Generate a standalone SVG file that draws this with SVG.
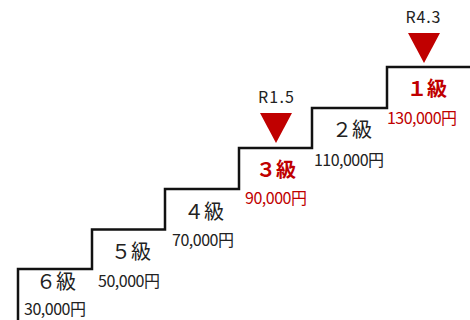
<svg xmlns="http://www.w3.org/2000/svg" width="470" height="320" viewBox="0 0 470 320">
<style>
.step{fill:none;stroke:#111;stroke-width:2.5}
.g{font-family:"Noto Sans CJK JP","Noto Sans",sans-serif;font-size:20px;fill:#222;text-anchor:middle}
.g.r{fill:#c00000;font-weight:bold}
.p{font-family:"Noto Sans CJK JP","Noto Sans",sans-serif;font-size:16px;fill:#222;text-anchor:middle}
.p.r{fill:#c00000}
.lbl{font-family:"Noto Sans CJK JP","Noto Sans",sans-serif;font-size:16px;fill:#222;text-anchor:middle}
.tri{fill:#c00000}
</style>
<g id="connectors">
<path class="step" d="M18,320 V269 H92 V229.5 H165 V189 H239 V148 H312 V108 H387 V67 H470"/>
</g>
<g id="grade6"><text class="g" x="56" y="289">６級</text><text class="p" x="55" y="315" textLength="62" lengthAdjust="spacing">30,000円</text></g>
<g id="grade5"><text class="g" x="131" y="259">５級</text><text class="p" x="129" y="287" textLength="62" lengthAdjust="spacing">50,000円</text></g>
<g id="grade4"><text class="g" x="204" y="219">４級</text><text class="p" x="203" y="246" textLength="62" lengthAdjust="spacing">70,000円</text></g>
<g id="grade3"><text class="g r" x="276" y="177">３級</text><text class="p r" x="276" y="204" textLength="62" lengthAdjust="spacing">90,000円</text></g>
<g id="grade2"><text class="g" x="352" y="137">２級</text><text class="p" x="349" y="166" textLength="70" lengthAdjust="spacing">110,000円</text></g>
<g id="grade1"><text class="g r" x="427" y="96">１級</text><text class="p r" x="422" y="124" textLength="70" lengthAdjust="spacing">130,000円</text></g>
<g id="marker-r15"><text class="lbl" x="276" y="103" textLength="36" lengthAdjust="spacing">R1.5</text><polygon class="tri" points="260,113 292,113 276,143"/></g>
<g id="marker-r43"><text class="lbl" x="423" y="23" textLength="35" lengthAdjust="spacing">R4.3</text><polygon class="tri" points="408,33 440,33 424,63"/></g>
</svg>
